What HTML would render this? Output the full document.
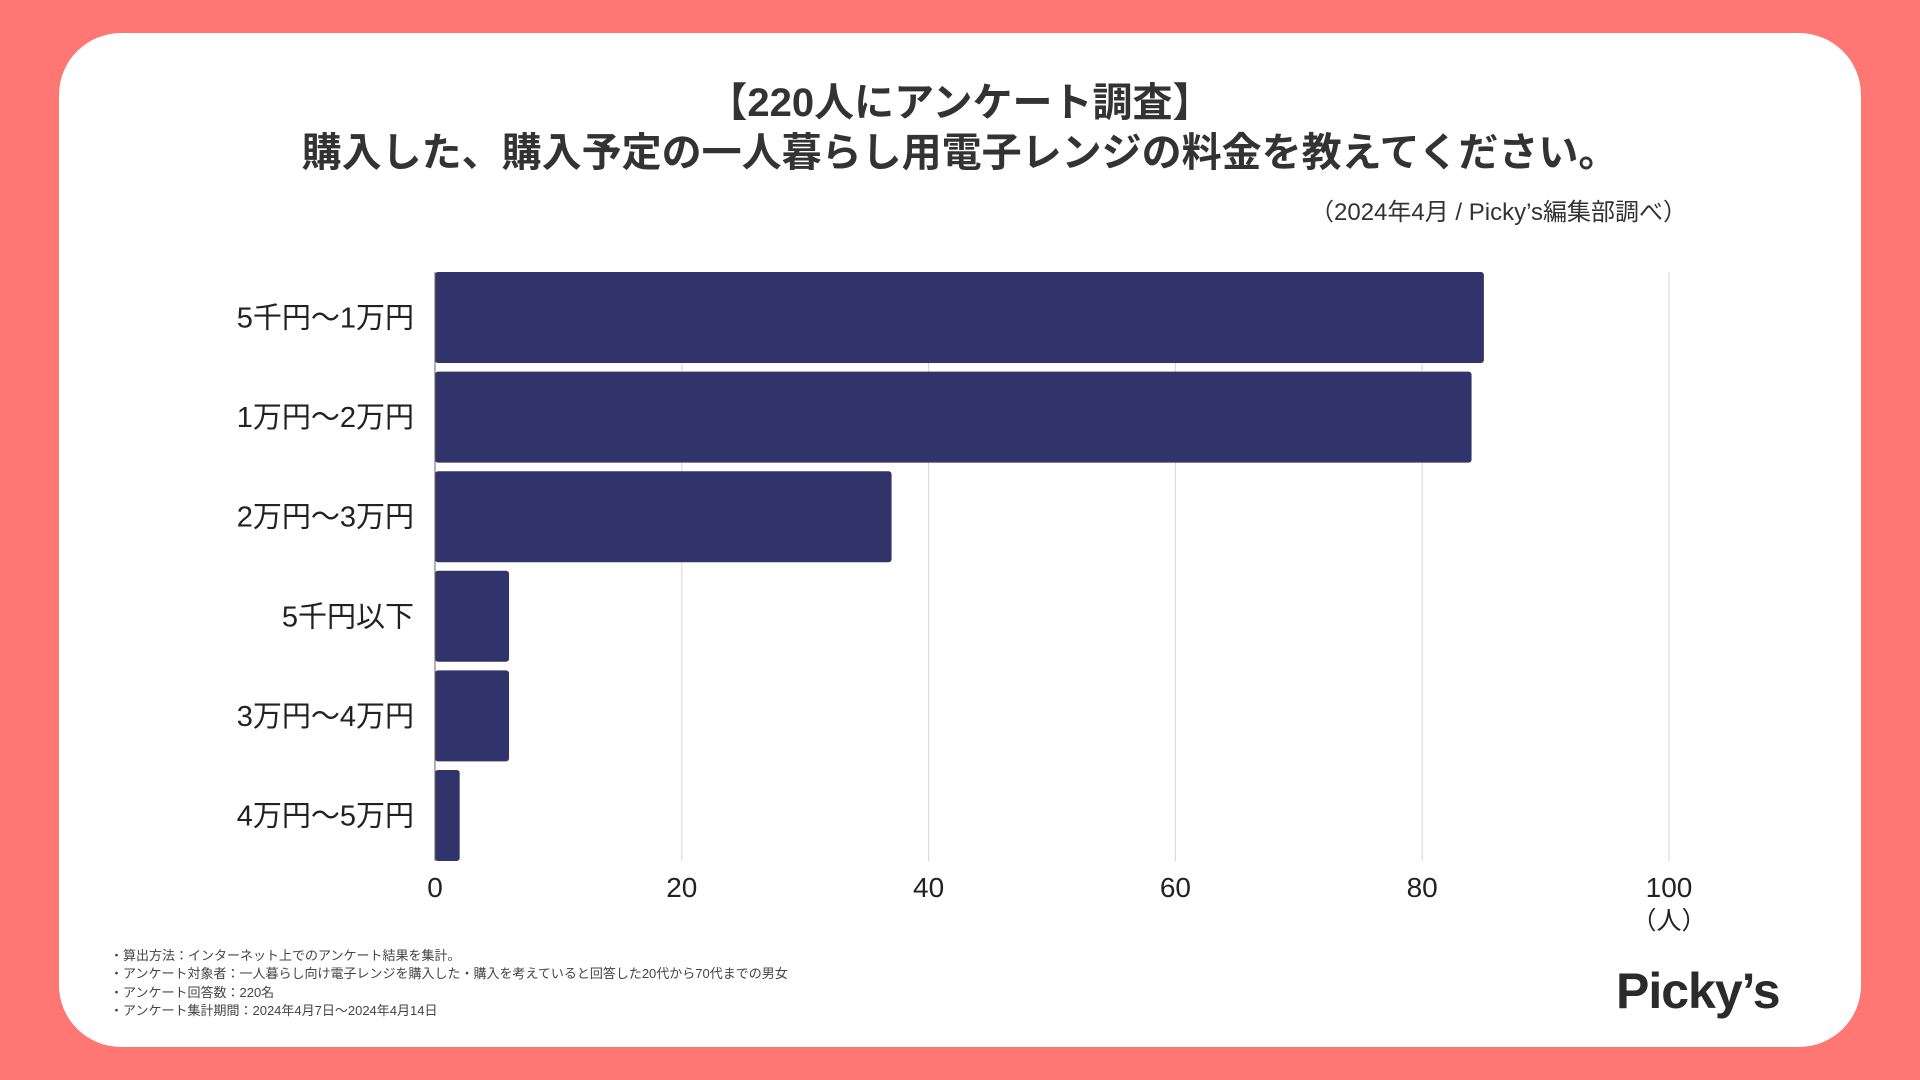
<!DOCTYPE html>
<html><head><meta charset="utf-8"><style>
body{margin:0;width:1920px;height:1080px;background:#ff7773;overflow:hidden;font-family:"Liberation Sans","Noto Sans CJK JP",sans-serif;color:#333}
#card{position:absolute;left:59px;top:33px;width:1802px;height:1014px;background:#fff;border-radius:62px}
.t{position:absolute;white-space:nowrap}
</style></head><body>
<div id="card"></div>
<div class="t" style="left:0;width:1920px;text-align:center;top:78px;font-size:40px;font-weight:bold;line-height:50px">【220人にアンケート調査】<br>購入した、購入予定の一人暮らし用電子レンジの料金を教えてください。</div>
<div class="t" style="right:233px;top:192px;font-size:24px">（2024年4月 / Picky’s編集部調べ）</div>
<svg id="chart" width="1920" height="1080" style="position:absolute;left:0;top:0"></svg>
<div class="t" style="left:110px;top:947px;font-size:13px;line-height:18.3px;color:#444">・算出方法：インターネット上でのアンケート結果を集計。<br>・アンケート対象者：一人暮らし向け電子レンジを購入した・購入を考えていると回答した20代から70代までの男女<br>・アンケート回答数：220名<br>・アンケート集計期間：2024年4月7日〜2024年4月14日</div>
<div class="t" style="left:1616px;top:962px;font-size:50px;font-weight:bold;color:#2b2b2b;letter-spacing:-1px">Picky’s</div>
<script>
const categories=["5千円〜1万円","1万円〜2万円","2万円〜3万円","5千円以下","3万円〜4万円","4万円〜5万円"];
const values=[85,84,37,6,6,2];
const ticks=[0,20,40,60,80,100];
const svg=document.getElementById('chart');
const NS='http://www.w3.org/2000/svg';
const x0=435,x1=1669,xmax=100,top0=272,step=99.6,bh=91;
const xs=v=>x0+(x1-x0)*v/xmax;
function mk(t,a){const e=document.createElementNS(NS,t);for(const k in a)e.setAttribute(k,a[k]);svg.appendChild(e);return e;}
ticks.forEach(v=>{
  if(v>0){const g=mk('line',{x1:xs(v),x2:xs(v),y1:top0,y2:top0+step*5+bh,stroke:'#dcdcdc','stroke-width':1.2});
  
  }
  const t=mk('text',{x:xs(v),y:897,'text-anchor':'middle','font-size':28,fill:'#222'});
  t.textContent=v;
  
  
});
const u=mk('text',{x:xs(100),y:929,'text-anchor':'middle','font-size':25,fill:'#222'});
u.textContent='（人）';


categories.forEach((c,i)=>{
  const y=top0+i*step;
  const b=mk('rect',{x:x0,y:y,width:xs(values[i])-x0,height:bh,rx:3,fill:'#30346b'});
  
  
  const l=mk('text',{x:414,y:y+bh/2+10,'text-anchor':'end','font-size':29,fill:'#222'});
  l.textContent=c;
  
  
});
const ax=mk('line',{x1:x0,x2:x0,y1:top0,y2:top0+step*5+bh,stroke:'#666','stroke-width':1});


</script>
</body></html>
